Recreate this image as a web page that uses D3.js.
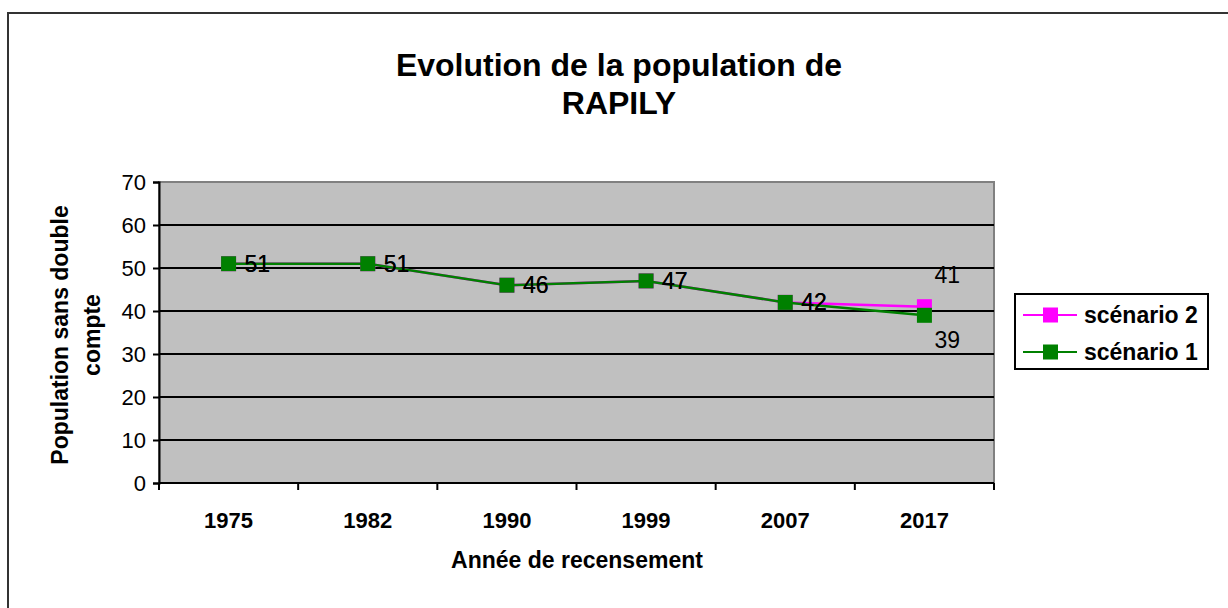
<!DOCTYPE html>
<html><head><meta charset="utf-8">
<script src="https://cdn.jsdelivr.net/npm/d3@7"></script>
<style>body{margin:0;background:#fff}svg{display:block}text{font-family:"Liberation Sans",Arial,sans-serif}</style>
</head><body>
<svg id="c" width="1228" height="608"></svg>
<script>
const years = ["1975","1982","1990","1999","2007","2017"];
const scenario2 = [51,51,46,47,42,41];
const scenario1 = [51,51,46,47,42,39];
const yTicks = [0,10,20,30,40,50,60,70];
const titleLines = ["Evolution de la population de","RAPILY"];
const yTitleLines = ["Population sans double","compte"];
const xTitle = "Année de recensement";
const seriesNames = ["scénario 2","scénario 1"];
const seriesColors = ["#FF00FF","#008000"];

const svg = d3.select("#c");
// outer frame
svg.append("path").attr("d","M8,608 V13 H1228").attr("fill","none").attr("stroke","#333").attr("stroke-width",2);

const L=159,R=994,T=182,B=483;
const x = d3.scaleBand().domain(years).range([L,R]);
const y = d3.scaleLinear().domain([0,70]).range([B,T]);

svg.append("rect").attr("x",L).attr("y",T).attr("width",R-L).attr("height",B-T).attr("fill","#C0C0C0")
  .attr("stroke","#808080").attr("stroke-width",2);

// gridlines
svg.append("g").selectAll("line").data(yTicks.filter(v=>v>0&&v<70)).join("line")
  .attr("x1",L).attr("x2",R).attr("y1",d=>y(d)).attr("y2",d=>y(d)).attr("stroke","#000").attr("stroke-width",2);

// y axis
const ya = svg.append("g").attr("transform",`translate(${L},0)`).call(d3.axisLeft(y).tickValues(yTicks).tickSize(6).tickPadding(7));
ya.select(".domain").attr("stroke","#000").attr("stroke-width",2);
ya.selectAll(".tick line").attr("stroke","#000").attr("stroke-width",2);
ya.selectAll("text").attr("font-size",22).attr("fill","#000").style("font-family","Liberation Sans, Arial");

// x axis
const xa = svg.append("g").attr("transform",`translate(0,${B})`);
xa.append("line").attr("x1",L).attr("x2",R).attr("y1",0).attr("y2",0).attr("stroke","#000").attr("stroke-width",2);
const bounds = years.map(d=>x(d)).concat([R]);
xa.selectAll("line.t").data(bounds).join("line").attr("class","t")
  .attr("x1",d=>d).attr("x2",d=>d).attr("y1",0).attr("y2",7).attr("stroke","#000").attr("stroke-width",2);
xa.selectAll("text").data(years).join("text").attr("x",d=>x(d)+x.bandwidth()/2).attr("y",45)
  .attr("text-anchor","middle").attr("font-size",22).attr("font-weight","bold").text(d=>d);

// series
const cx = d=>x(d)+x.bandwidth()/2;
const series = [scenario2, scenario1];
series.forEach((vals,i)=>{
  const pts = years.map((yr,j)=>[cx(yr),y(vals[j])]);
  svg.append("path").attr("d",d3.line()(pts)).attr("fill","none").attr("stroke",seriesColors[i]).attr("stroke-width",2.5);
  svg.append("g").selectAll("rect").data(pts).join("rect")
    .attr("x",p=>p[0]-7.5).attr("y",p=>p[1]-7.5).attr("width",15).attr("height",15).attr("fill",seriesColors[i]);
});
// data labels
series.forEach((vals,i)=>{
  svg.append("g").selectAll("text").data(years).join("text")
    .attr("x",(yr,j)=> (j===years.length-1 && scenario1[j]!==scenario2[j]) ? cx(yr)+10 : cx(yr)+16)
    .attr("y",(yr,j)=>{
      const last = j===years.length-1 && scenario1[j]!==scenario2[j];
      if(last) return i===0 ? y(vals[j])-24 : y(vals[j])+33;
      return y(vals[j])+8;
    })
    .attr("font-size",23).attr("fill","#000").text((yr,j)=>vals[j]);
});

// title
svg.append("text").attr("x",618).attr("text-anchor","middle").attr("font-size",32).attr("font-weight","bold")
  .selectAll("tspan").data(titleLines).join("tspan").attr("x",619).attr("y",(d,i)=>76+i*38).text(d=>d);

// y title
svg.append("text").attr("transform","translate(0,335) rotate(-90)").attr("text-anchor","middle").attr("font-size",23).attr("font-weight","bold")
  .selectAll("tspan").data(yTitleLines).join("tspan").attr("x",0).attr("y",(d,i)=>68+i*32).text(d=>d);

// x title
svg.append("text").attr("x",577).attr("y",568).attr("text-anchor","middle").attr("font-size",23).attr("font-weight","bold").text(xTitle);

// legend
const lg = svg.append("g");
lg.append("rect").attr("x",1015).attr("y",294).attr("width",193).attr("height",75).attr("fill","#fff").attr("stroke","#000").attr("stroke-width",2);
seriesNames.forEach((n,i)=>{
  const ly = 315+i*37;
  lg.append("line").attr("x1",1023).attr("x2",1077).attr("y1",ly).attr("y2",ly).attr("stroke",seriesColors[i]).attr("stroke-width",2);
  lg.append("rect").attr("x",1043).attr("y",ly-7.5).attr("width",15).attr("height",15).attr("fill",seriesColors[i]);
  lg.append("text").attr("x",1084).attr("y",ly+8).attr("font-size",23).attr("font-weight","bold").text(n);
});
</script>
</body></html>
